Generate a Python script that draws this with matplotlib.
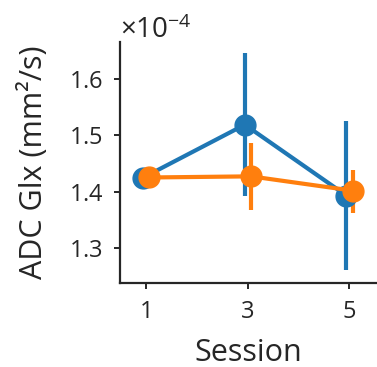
import matplotlib
matplotlib.use("Agg")
import matplotlib.pyplot as plt
import numpy as np

sessions = ["1", "3", "5"]
blue_mean = [1.4248e-4, 1.5186e-4, 1.3930e-4]
blue_lo = [1.4248e-4, 1.3917e-4, 1.2610e-4]
blue_hi = [1.4248e-4, 1.6455e-4, 1.5245e-4]
orange_mean = [1.4250e-4, 1.4270e-4, 1.4017e-4]
orange_lo = [1.4250e-4, 1.3680e-4, 1.3620e-4]
orange_hi = [1.4250e-4, 1.4860e-4, 1.4390e-4]

plt.rcParams['font.family'] = ['Open Sans', 'DejaVu Sans']
plt.rcParams['mathtext.fontset'] = 'custom'
plt.rcParams['mathtext.rm'] = 'Open Sans'

fig = plt.figure(figsize=(3.77, 3.67), dpi=100)
ax = fig.add_axes([0.318, 0.229, 0.679, 0.657])

x = np.arange(len(sessions))
dodge = 0.03
for mean, lo, hi, col, off in [(blue_mean, blue_lo, blue_hi, '#1f77b4', -dodge),
                               (orange_mean, orange_lo, orange_hi, '#ff7f0e', dodge)]:
    mean = np.array(mean); lo = np.array(lo); hi = np.array(hi)
    ax.vlines(x + off, lo, hi, color=col, lw=3, zorder=2)
    ax.plot(x + off, mean, color=col, lw=3, marker='o', ms=15, zorder=3)

ax.set_xlim(-0.26, 2.26)
ax.set_ylim(1.238e-4, 1.6655e-4)
ax.set_xticks(x)
ax.set_xticklabels(sessions)
ax.set_yticks([1.3e-4, 1.4e-4, 1.5e-4, 1.6e-4])
ax.ticklabel_format(axis='y', style='sci', scilimits=(0, 0), useMathText=True)
ax.yaxis.get_offset_text().set_fontsize(20)
ax.yaxis.get_offset_text().set_color('#262626')

for s in ['top', 'right']:
    ax.spines[s].set_visible(False)
for s in ['left', 'bottom']:
    ax.spines[s].set_linewidth(1.6)
    ax.spines[s].set_color('#262626')
ax.tick_params(axis='both', labelsize=17, width=1.4, length=4, pad=8, colors='#262626')
ax.set_xlabel("Session", fontsize=22, color='#262626', labelpad=10)
ax.set_ylabel("ADC Glx (mm²/s)", fontsize=22, color='#262626', labelpad=14)

fig.savefig("out.png", dpi=100)
